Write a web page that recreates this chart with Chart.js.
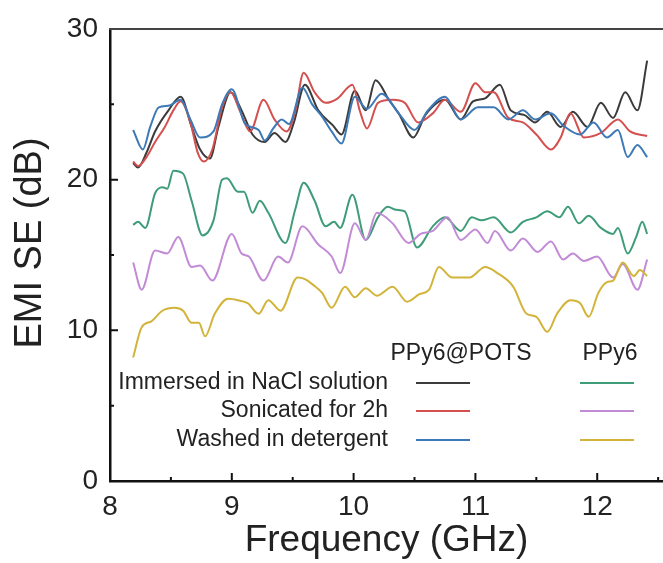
<!DOCTYPE html>
<html>
<head>
<meta charset="utf-8">
<script src="https://cdn.jsdelivr.net/npm/chart.js@4.4.1/dist/chart.umd.min.js"></script>
<style>
    html, body { margin: 0; padding: 0; background: #fff; }
    #wrap { width: 663px; height: 563px; position: relative; }
</style>
</head>
<body>
<div id="wrap"><canvas id="emiChart"></canvas></div>
<script>
// Tick values
const xMajor = [8, 9, 10, 11, 12];
const xMinor = [8.5, 9.5, 10.5, 11.5, 12.5];
const yMajor = [0, 10, 20, 30];
const yMinor = [5, 15, 25];

// Axis and legend text
const yTitle = 'EMI SE (dB)';
const xTitle = 'Frequency (GHz)';
const groupNames = ['PPy6@POTS', 'PPy6'];
const rowLabels = ['Immersed in NaCl solution', 'Sonicated for 2h', 'Washed in detergent'];

// PPy6@POTS - immersed in NaCl solution
const naclPotsF = [8.19, 8.23, 8.30, 8.37, 8.48, 8.58, 8.67, 8.74, 8.82, 8.89, 8.99, 9.08, 9.17, 9.27, 9.35, 9.44, 9.51, 9.60,
    9.71, 9.83, 9.90, 10.01, 10.10, 10.18, 10.29, 10.37, 10.49, 10.59, 10.75, 10.88, 10.98, 11.08, 11.20, 11.29, 11.40,
    11.49, 11.59, 11.70, 11.80, 11.92, 12.03, 12.13, 12.23, 12.33, 12.41];
const naclPotsV = [21.1, 20.8, 21.8, 23.2, 24.6, 25.5, 23.5, 22.0, 21.4, 23.5, 25.8, 24.6, 23.0, 22.5, 23.1, 22.5, 23.8, 26.3,
    24.6, 23.6, 23.0, 25.9, 24.6, 26.6, 25.3, 24.4, 22.8, 24.3, 25.3, 24.0, 25.2, 25.4, 26.3, 24.6, 24.3,
    23.8, 24.5, 23.5, 24.5, 23.5, 25.1, 24.1, 25.8, 24.6, 27.9];

// PPy6@POTS - sonicated for 2h
const sonicPotsF = [8.19, 8.23, 8.30, 8.37, 8.45, 8.52, 8.58, 8.66, 8.72, 8.77, 8.84, 8.92, 8.99, 9.07, 9.15, 9.26, 9.35, 9.45,
    9.52, 9.59, 9.68, 9.77, 9.87, 9.99, 10.05, 10.11, 10.20, 10.32, 10.42, 10.53, 10.65, 10.75, 10.88, 11.00, 11.08,
    11.15, 11.27, 11.39, 11.50, 11.62, 11.70, 11.78, 11.89, 12.03, 12.17, 12.27, 12.41];
const sonicPotsV = [21.2, 20.9, 21.5, 22.5, 23.5, 24.6, 25.2, 23.8, 21.8, 21.2, 22.0, 24.8, 25.8, 24.5, 23.2, 25.3, 24.0, 23.2,
    24.5, 27.1, 25.8, 25.1, 25.4, 26.3, 24.6, 23.4, 25.1, 25.3, 25.1, 23.8, 24.4, 25.3, 24.5, 26.4, 25.8,
    25.8, 24.1, 23.8, 23.0, 22.0, 22.8, 24.4, 22.8, 23.1, 24.0, 23.2, 22.9];

// PPy6@POTS - washed in detergent
const washPotsF = [8.19, 8.27, 8.33, 8.40, 8.48, 8.58, 8.66, 8.74, 8.85, 8.92, 9.00, 9.11, 9.22, 9.27, 9.34, 9.41, 9.47, 9.58,
    9.66, 9.74, 9.82, 9.90, 10.01, 10.11, 10.23, 10.37, 10.50, 10.61, 10.75, 10.88, 11.02, 11.15, 11.27, 11.39, 11.49,
    11.62, 11.72, 11.86, 11.97, 12.08, 12.17, 12.25, 12.33, 12.41];
const washPotsV = [23.3, 22.0, 23.5, 24.8, 24.9, 25.3, 24.0, 22.8, 23.2, 25.0, 26.0, 23.7, 23.3, 22.6, 23.4, 24.0, 23.7, 26.1,
    25.0, 24.2, 23.2, 22.4, 25.5, 24.7, 25.7, 24.4, 23.3, 24.6, 25.5, 24.0, 24.8, 24.8, 24.0, 24.6, 24.0,
    24.4, 23.6, 23.0, 23.8, 22.8, 23.3, 21.5, 22.3, 21.5];

// PPy6 - immersed in NaCl solution
const naclPpyF = [8.19, 8.23, 8.29, 8.37, 8.43, 8.47, 8.52, 8.60, 8.67, 8.76, 8.85, 8.92, 8.96, 9.05, 9.10, 9.17, 9.23, 9.30,
    9.44, 9.52, 9.59, 9.68, 9.77, 9.84, 9.89, 9.99, 10.10, 10.20, 10.28, 10.35, 10.42, 10.52, 10.65, 10.75, 10.88, 10.97,
    11.05, 11.15, 11.29, 11.39, 11.50, 11.59, 11.69, 11.76, 11.85, 11.93, 12.03, 12.13, 12.17, 12.25, 12.32, 12.37, 12.41];
const naclPpyV = [17.0, 17.2, 16.8, 19.1, 19.5, 19.4, 20.6, 20.4, 18.6, 16.3, 17.3, 20.0, 20.1, 19.2, 19.2, 17.8, 18.6, 17.8,
    15.8, 18.0, 19.8, 18.6, 16.9, 17.2, 16.8, 19.0, 16.0, 17.5, 18.2, 18.0, 17.9, 15.5, 16.9, 17.5, 16.6, 17.5,
    17.3, 17.5, 16.5, 17.2, 17.5, 17.9, 17.5, 18.2, 17.1, 17.6, 16.8, 16.4, 16.8, 15.1, 16.2, 17.2, 16.4];

// PPy6 - sonicated for 2h
const sonicPpyF = [8.19, 8.26, 8.37, 8.47, 8.56, 8.67, 8.74, 8.84, 9.00, 9.08, 9.14, 9.26, 9.38, 9.46, 9.58, 9.71, 9.82, 9.89,
    10.01, 10.10, 10.19, 10.32, 10.45, 10.55, 10.65, 10.77, 10.88, 11.00, 11.10, 11.16, 11.29, 11.39, 11.51, 11.62,
    11.72, 11.80, 11.89, 12.00, 12.13, 12.21, 12.33, 12.41];
const sonicPpyV = [14.5, 12.7, 15.3, 15.1, 16.2, 14.2, 14.3, 13.3, 16.4, 15.1, 14.9, 13.3, 14.9, 14.5, 16.9, 15.7, 14.9, 13.8,
    17.1, 16.0, 17.8, 17.1, 15.8, 16.4, 16.6, 17.5, 16.0, 16.7, 15.8, 16.6, 15.3, 16.1, 15.2, 15.9,
    14.7, 15.1, 14.6, 14.9, 13.5, 14.4, 12.7, 14.7];

// PPy6 - washed in detergent
const washPpyF = [8.19, 8.26, 8.34, 8.43, 8.53, 8.60, 8.67, 8.73, 8.78, 8.86, 8.97, 9.05, 9.13, 9.22, 9.30, 9.40, 9.54, 9.60,
    9.67, 9.74, 9.82, 9.93, 10.01, 10.10, 10.19, 10.32, 10.44, 10.54, 10.62, 10.70, 10.81, 10.95, 11.08, 11.18, 11.31,
    11.42, 11.50, 11.59, 11.67, 11.78, 11.86, 11.93, 12.01, 12.08, 12.13, 12.21, 12.30, 12.35, 12.41];
const washPpyV = [8.2, 10.2, 10.6, 11.3, 11.5, 11.3, 10.5, 10.5, 9.6, 11.1, 12.1, 12.0, 11.8, 11.1, 12.0, 11.3, 13.5, 13.4,
    13.0, 12.5, 11.5, 12.9, 12.2, 12.8, 12.3, 12.9, 11.9, 12.4, 12.7, 14.2, 13.5, 13.5, 14.2, 13.8, 12.9,
    11.1, 10.9, 9.9, 11.1, 12.0, 11.8, 10.9, 12.5, 13.2, 13.3, 14.5, 13.6, 14.0, 13.6];

const FONT = '"Liberation Sans", Arial, sans-serif';
const INK = '#222';

function toPoints(fs, vs) {
    return fs.map((f, i) => ({ x: f, y: vs[i] }));
}

function lineSet(label, fs, vs, color) {
    return {
        label: label,
        data: toPoints(fs, vs),
        borderColor: color,
        borderWidth: 2,
        pointRadius: 0,
        fill: false,
        cubicInterpolationMode: 'monotone'
    };
}

// colours per row, [PPy6@POTS, PPy6]
const rowColors = [
    ['#3b3b3b', '#3f9c78'],
    ['#d3504f', '#c28bd6'],
    ['#3c79b6', '#d2b43a']
];

// inward ticks, top frame line, y title and the two-column legend
const framePlugin = {
    id: 'frame',
    afterDraw(chart) {
        const ctx = chart.ctx;
        const xs = chart.scales.x;
        const ys = chart.scales.y;
        const area = chart.chartArea;
        ctx.save();
        ctx.strokeStyle = '#111';
        ctx.lineWidth = 2;
        ctx.beginPath();
        xMajor.forEach(v => { const px = xs.getPixelForValue(v); ctx.moveTo(px, area.bottom); ctx.lineTo(px, area.bottom - 8); });
        xMinor.forEach(v => { const px = xs.getPixelForValue(v); ctx.moveTo(px, area.bottom); ctx.lineTo(px, area.bottom - 4); });
        yMajor.forEach(v => { const py = ys.getPixelForValue(v); ctx.moveTo(area.left, py); ctx.lineTo(area.left + 8, py); });
        yMinor.forEach(v => { const py = ys.getPixelForValue(v); ctx.moveTo(area.left, py); ctx.lineTo(area.left + 4, py); });
        ctx.stroke();

        // top frame
        ctx.strokeStyle = '#444';
        ctx.beginPath();
        ctx.moveTo(area.left - 1, area.top);
        ctx.lineTo(area.right, area.top);
        ctx.stroke();

        // y title, sits a little above the axis centre in the original
        ctx.fillStyle = INK;
        ctx.font = '38px ' + FONT;
        ctx.textAlign = 'center';
        ctx.textBaseline = 'middle';
        ctx.save();
        ctx.translate(31, 243);
        ctx.rotate(-Math.PI / 2);
        ctx.fillText(yTitle, 0, 0);
        ctx.restore();

        // legend
        ctx.font = '23px ' + FONT;
        ctx.fillText(groupNames[0], 461, 354);
        ctx.fillText(groupNames[1], 610, 354);
        ctx.textAlign = 'right';
        const rowY = [383, 411, 440];
        rowLabels.forEach((t, i) => {
            ctx.fillStyle = INK;
            ctx.fillText(t, 388, rowY[i]);
            ctx.lineWidth = 2;
            ctx.strokeStyle = rowColors[i][0];
            ctx.beginPath(); ctx.moveTo(416, rowY[i]); ctx.lineTo(470, rowY[i]); ctx.stroke();
            ctx.strokeStyle = rowColors[i][1];
            ctx.beginPath(); ctx.moveTo(580, rowY[i]); ctx.lineTo(634, rowY[i]); ctx.stroke();
        });
        ctx.restore();
    }
};

const chart = new Chart(document.getElementById('emiChart'), {
    type: 'line',
    data: {
        datasets: [
            lineSet('PPy6 Washed in detergent', washPpyF, washPpyV, rowColors[2][1]),
            lineSet('PPy6 Sonicated for 2h', sonicPpyF, sonicPpyV, rowColors[1][1]),
            lineSet('PPy6 Immersed in NaCl solution', naclPpyF, naclPpyV, rowColors[0][1]),
            lineSet('PPy6@POTS Washed in detergent', washPotsF, washPotsV, rowColors[2][0]),
            lineSet('PPy6@POTS Sonicated for 2h', sonicPotsF, sonicPotsV, rowColors[1][0]),
            lineSet('PPy6@POTS Immersed in NaCl solution', naclPotsF, naclPotsV, rowColors[0][0])
        ]
    },
    options: {
        responsive: true,
        maintainAspectRatio: false,
        devicePixelRatio: 1,
        animation: false,
        layout: { padding: { top: 29, right: 0, left: 0, bottom: 0 } },
        plugins: {
            legend: { display: false },
            tooltip: { enabled: false }
        },
        scales: {
            x: {
                type: 'linear',
                min: 8,
                max: 12.54,
                afterBuildTicks: scale => { scale.ticks = xMajor.map(v => ({ value: v })); },
                afterFit: scale => { scale.height = 82; },
                grid: { display: false, drawTicks: false },
                border: { display: true, color: '#111', width: 2.5 },
                ticks: { color: INK, padding: 9, font: { family: FONT, size: 28 } },
                title: {
                    display: true,
                    text: xTitle,
                    color: INK,
                    font: { family: FONT, size: 37 },
                    padding: { top: 0, bottom: 0 }
                }
            },
            y: {
                min: 0,
                max: 30,
                afterBuildTicks: scale => { scale.ticks = yMajor.map(v => ({ value: v })); },
                afterFit: scale => { scale.width = 110; },
                grid: { display: false, drawTicks: false },
                border: { display: true, color: '#111', width: 2.5 },
                ticks: { color: INK, padding: 12, font: { family: FONT, size: 28 } },
                title: { display: false }
            }
        }
    },
    plugins: [framePlugin]
});
</script>
</body>
</html>
